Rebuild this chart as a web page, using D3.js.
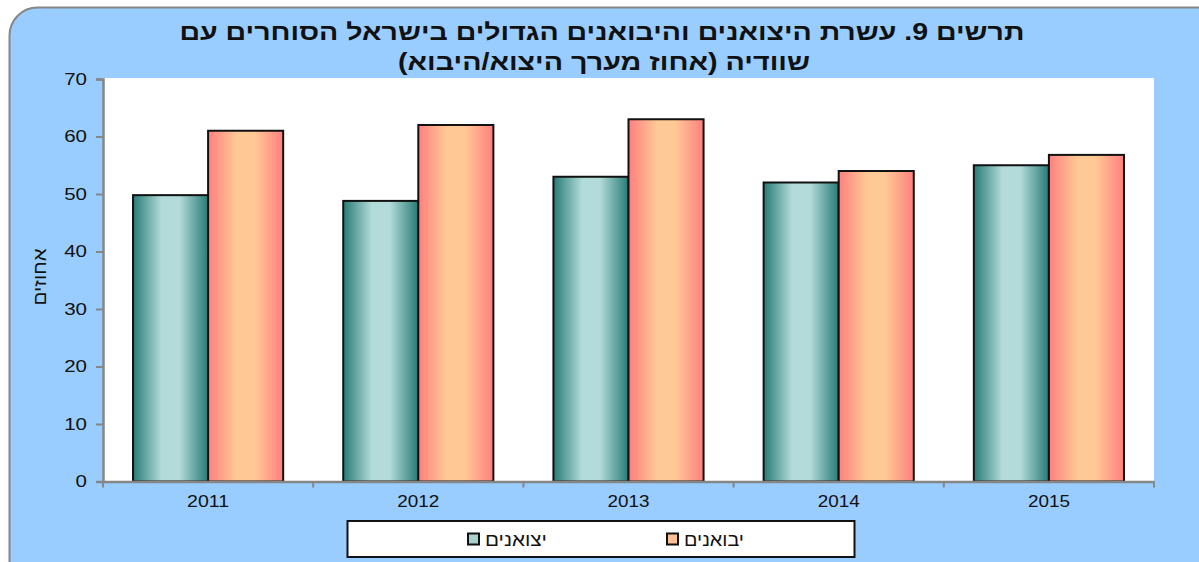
<!DOCTYPE html>
<html>
<head>
<meta charset="utf-8">
<script src="https://cdn.jsdelivr.net/npm/d3@7"></script>
<style>
  body { margin: 0; background: #fff; }
  svg { display: block; font-family: Arial, "Liberation Sans", sans-serif; }
</style>
</head>
<body>
<div id="chart"></div>
<script>
// Chart data
var years = ['2011', '2012', '2013', '2014', '2015'];
var exporters = [49.8, 48.8, 53.0, 52.0, 55.0];
var importers = [61.0, 62.0, 63.0, 54.0, 56.8];
var seriesNames = ['יצואנים', 'יבואנים'];
var yTicks = [0, 10, 20, 30, 40, 50, 60, 70];
var titleLines = ['תרשים 9. עשרת היצואנים והיבואנים הגדולים בישראל הסוחרים עם',
                  'שוודיה (אחוז מערך היצוא/היבוא)'];
var yTitle = 'אחוזים';

var width = 1199;
var height = 562;
var plot = { left: 103, right: 1154, top: 79, bottom: 481.5 };
// the original text is drawn a bit wider than the installed fonts
var stretch = 1.28;

var svg = d3.select('#chart')
  .append('svg')
  .attr('width', width)
  .attr('height', height);

// Gradients
var defs = svg.append('defs');
function addGradient(id, edge, mid) {
  var g = defs.append('linearGradient')
    .attr('id', id)
    .attr('x1', '0%').attr('x2', '100%')
    .attr('y1', '0%').attr('y2', '0%');
  g.append('stop').attr('offset', '0%').attr('stop-color', edge);
  g.append('stop').attr('offset', '38%').attr('stop-color', mid);
  g.append('stop').attr('offset', '62%').attr('stop-color', mid);
  g.append('stop').attr('offset', '100%').attr('stop-color', edge);
}
addGradient('gradExp', '#267b76', '#b2dbd9');
addGradient('gradImp', '#ff7f7f', '#ffc995');
var fills = ['url(#gradExp)', 'url(#gradImp)'];
var swatch = ['#a6d2d0', '#ffbf95'];

// Outer frame
svg.append('rect')
  .attr('x', 9.5).attr('y', 7.5)
  .attr('width', width + 20).attr('height', height + 20)
  .attr('rx', 28).attr('ry', 28)
  .attr('fill', '#99ccff')
  .attr('stroke', '#868686')
  .attr('stroke-width', 2);

// Title
var titleWidths = [845, 412];
svg.append('g')
  .selectAll('text')
  .data(titleLines)
  .enter()
  .append('text')
  .attr('x', function (d, i) { return i === 0 ? 602 : 604; })
  .attr('y', function (d, i) { return 40 + i * 30; })
  .attr('text-anchor', 'middle')
  .attr('direction', 'rtl')
  .attr('font-size', 23)
  .attr('font-weight', 'bold')
  .attr('fill', '#111')
  .attr('textLength', function (d, i) { return titleWidths[i]; })
  .attr('lengthAdjust', 'spacingAndGlyphs')
  .text(function (d) { return d; });

// Plot area
svg.append('rect')
  .attr('x', plot.left).attr('y', plot.top - 1)
  .attr('width', plot.right - plot.left)
  .attr('height', plot.bottom - plot.top + 1)
  .attr('fill', '#fff');

// Scales
var x0 = d3.scaleBand()
  .domain(years)
  .range([plot.left, plot.right])
  .paddingInner(0)
  .paddingOuter(0);
var x1 = d3.scaleBand()
  .domain([0, 1])
  .range([0, x0.bandwidth()])
  .paddingOuter(0.4)
  .paddingInner(0);
var y = d3.scaleLinear()
  .domain([0, 70])
  .range([plot.bottom, plot.top]);

// Bars
var groups = svg.append('g')
  .selectAll('g')
  .data(years)
  .enter()
  .append('g')
  .attr('transform', function (d) { return 'translate(' + x0(d) + ',0)'; });

groups.selectAll('rect')
  .data(function (d, i) { return [exporters[i], importers[i]]; })
  .enter()
  .append('rect')
  .attr('x', function (d, i) { return x1(i); })
  .attr('y', function (d) { return y(d); })
  .attr('width', x1.bandwidth())
  .attr('height', function (d) { return y(0) - y(d); })
  .attr('fill', function (d, i) { return fills[i]; })
  .attr('stroke', '#111')
  .attr('stroke-width', 2);

// Y axis
var yAxis = svg.append('g')
  .attr('transform', 'translate(' + plot.left + ',0)')
  .call(d3.axisLeft(y).tickValues(yTicks).tickSize(7).tickPadding(9));
yAxis.select('.domain').attr('stroke', '#868686').attr('stroke-width', 2.5);
yAxis.selectAll('.tick line').attr('stroke', '#868686').attr('stroke-width', 2);
yAxis.selectAll('.tick text')
  .attr('font-size', 16)
  .attr('fill', '#111')
  .attr('font-family', 'Arial, "Liberation Sans", sans-serif')
  .attr('textLength', function (d) { return String(d).length * 8.9 * stretch; })
  .attr('lengthAdjust', 'spacingAndGlyphs');

// X axis
var xAxis = svg.append('g')
  .attr('transform', 'translate(0,' + plot.bottom + ')')
  .call(d3.axisBottom(x0).tickSize(0).tickPadding(14));
xAxis.select('.domain').attr('stroke', '#868686').attr('stroke-width', 2.5);
xAxis.selectAll('.tick text')
  .attr('font-size', 16)
  .attr('fill', '#111')
  .attr('font-family', 'Arial, "Liberation Sans", sans-serif')
  .attr('textLength', 42)
  .attr('lengthAdjust', 'spacingAndGlyphs');
xAxis.selectAll('.sep')
  .data(years.concat(['end']))
  .enter()
  .append('line')
  .attr('class', 'sep')
  .attr('x1', function (d) { return d === 'end' ? plot.right : x0(d); })
  .attr('x2', function (d) { return d === 'end' ? plot.right : x0(d); })
  .attr('y1', 0)
  .attr('y2', 6)
  .attr('stroke', '#868686')
  .attr('stroke-width', 2);

// Y axis title
svg.append('text')
  .attr('transform', 'translate(46,' + 277 + ') rotate(-90)')
  .attr('text-anchor', 'middle')
  .attr('direction', 'rtl')
  .attr('font-size', 18)
  .attr('fill', '#111')
  .attr('textLength', 57)
  .attr('lengthAdjust', 'spacingAndGlyphs')
  .text(yTitle);

// Legend
var legend = svg.append('g');
legend.append('rect')
  .attr('x', 347.5).attr('y', 521)
  .attr('width', 507).attr('height', 36)
  .attr('fill', '#fff')
  .attr('stroke', '#111')
  .attr('stroke-width', 2);

var legendX = [468, 667];
var legendW = [62, 60];
var items = legend.selectAll('.item')
  .data(seriesNames)
  .enter()
  .append('g')
  .attr('class', 'item')
  .attr('transform', function (d, i) { return 'translate(' + legendX[i] + ',539)'; });
items.append('rect')
  .attr('x', 0).attr('y', -5.5)
  .attr('width', 11).attr('height', 11)
  .attr('fill', function (d, i) { return swatch[i]; })
  .attr('stroke', '#111')
  .attr('stroke-width', 2);
items.append('text')
  .attr('x', 17)
  .attr('y', 7)
  .attr('font-size', 18)
  .attr('fill', '#111')
  .attr('text-anchor', 'start')
  .attr('direction', 'ltr')
  .attr('unicode-bidi', 'plaintext')
  .attr('textLength', function (d, i) { return legendW[i]; })
  .attr('lengthAdjust', 'spacingAndGlyphs')
  .text(function (d) { return d; });
</script>
</body>
</html>
